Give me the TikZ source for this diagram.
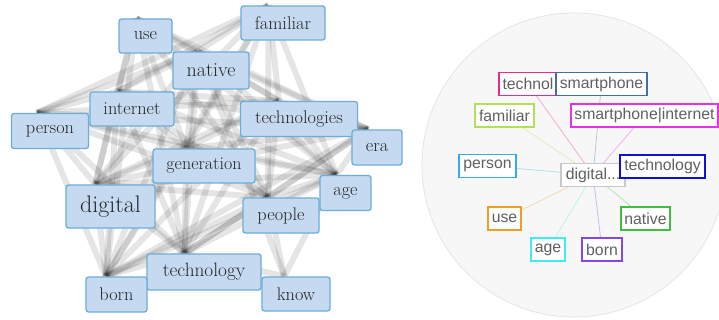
\documentclass[tikz,border=0pt]{standalone}
\usepackage{fontspec}
\newfontfamily\rfont{Liberation Sans}
\usetikzlibrary{backgrounds,calc}
\definecolor{lfill}{RGB}{197,218,240}
\definecolor{lborder}{RGB}{107,174,214}
\definecolor{rtext}{RGB}{96,96,96}
\definecolor{cpink}{RGB}{236,40,140}
\definecolor{csteel}{RGB}{74,110,154}
\definecolor{clime}{RGB}{178,224,90}
\definecolor{cmag}{RGB}{232,48,232}
\definecolor{csky}{RGB}{56,170,236}
\definecolor{cgray}{RGB}{200,200,200}
\definecolor{cblue}{RGB}{16,16,220}
\definecolor{corange}{RGB}{240,160,32}
\definecolor{cgreen}{RGB}{64,190,64}
\definecolor{ccyan}{RGB}{64,236,236}
\definecolor{cpurple}{RGB}{130,70,236}
\tikzset{
  lbox/.style={draw=lborder, fill=lfill, rounded corners=2.5pt, line width=1.3pt, inner sep=0pt, text=black!85, font=\fontsize{18.3}{20}\selectfont},
  rbox/.style={draw=#1, line width=1.6pt, fill=white, inner sep=0pt, text=rtext, font=\rfont\fontsize{15.8}{17}\selectfont, minimum height=23},
  ledge/.style={draw=black, line width=6pt, opacity=0.1},
  redge/.style={draw=#1, line width=0.8pt, opacity=0.35},
}
\begin{document}
\begin{tikzpicture}[x=1pt,y=-1pt]
\clip (0,0) rectangle (719,320);
% left graph nodes
\node[lbox, minimum width=53, minimum height=34] (use) at (145.5,36) {use};
\node[lbox, minimum width=84, minimum height=34] (familiar) at (283,23) {familiar};
\node[lbox, minimum width=76, minimum height=37, font=\fontsize{20}{22}\selectfont] (native) at (211,70.5) {native};
\node[lbox, minimum width=84, minimum height=34] (internet) at (132,109) {internet};
\node[lbox, minimum width=77, minimum height=35] (person) at (50,131) {person};
\node[lbox, minimum width=117, minimum height=35] (technologies) at (299,119) {technologies};
\node[lbox, minimum width=50, minimum height=35] (era) at (377,147.5) {era};
\node[lbox, minimum width=102, minimum height=34, font=\fontsize{18}{20}\selectfont] (generation) at (204,166) {generation};
\node[lbox, minimum width=89, minimum height=43, font=\fontsize{24}{26}\selectfont] (digital) at (110.5,206.5) {digital};
\node[lbox, minimum width=51, minimum height=35] (age) at (345.5,193) {age};
\node[lbox, minimum width=76, minimum height=35] (people) at (281,215.5) {people};
\node[lbox, minimum width=114, minimum height=36, font=\fontsize{19.3}{21}\selectfont] (technology) at (204,272) {technology};
\node[lbox, minimum width=61, minimum height=35] (born) at (116.5,294.5) {born};
\node[lbox, minimum width=68, minimum height=34] (know) at (296,294) {know};
% right radial view nodes
\node[rbox=cgray, minimum width=64] (rdigital) at (593,175) {digital...};
\node[rbox=cpink, minimum width=58] (rtechnol) at (528,84) {technol};
\node[rbox=csteel, minimum width=91] (rsmart) at (601.5,84) {smartphone};
\node[rbox=clime, minimum width=59] (rfamiliar) at (504.5,115.5) {familiar};
\node[rbox=cmag, minimum width=147] (rsmartint) at (644.5,115.5) {smartphone|internet};
\node[rbox=csky, minimum width=57] (rperson) at (487.5,166) {person};
\node[rbox=cblue, minimum width=85] (rtechnology) at (662.5,166.5) {technology};
\node[rbox=corange, minimum width=33] (ruse) at (504.5,218.5) {use};
\node[rbox=cgreen, minimum width=49] (rnative) at (645.5,218.5) {native};
\node[rbox=ccyan, minimum width=34] (rage) at (548,249.5) {age};
\node[rbox=cpurple, minimum width=40] (rborn) at (602,249.5) {born};
\begin{scope}[on background layer]
\fill[white] (0,0) rectangle (719,320);
\foreach \a in {use,familiar,native,internet,person,technologies,era,generation,digital,age,people,technology,born,know} {
  \coordinate (\a-a) at ($(\a.north west)!0.33!(\a.north east)$);
}
\def\names{use,familiar,native,internet,person,technologies,era,generation,digital,age,people,technology,born}
\foreach \a [count=\i] in \names {
  \foreach \b [count=\j] in \names {
    \ifnum\j>\i
      \pgfmathtruncatemacro\skip{(\i==1 && \j==2) || (\i==1 && \j==5) || (\i==2 && \j==7) ? 1 : 0}
      \ifnum\skip=0
        \draw[ledge] (\a-a) -- (\b-a);
      \fi
    \fi
  }
}
\foreach \b in {age,native,people,technology}
  \draw[ledge] (know-a) -- (\b-a);
\fill[white!97!black, draw=white!90!black, line width=0.8pt] (574,165) circle (152);
\draw[redge=cpink] (rdigital.center) -- (rtechnol.center);
\draw[redge=csteel] (rdigital.center) -- (rsmart.center);
\draw[redge=clime] (rdigital.center) -- (rfamiliar.center);
\draw[redge=cmag] (rdigital.center) -- (rsmartint.center);
\draw[redge=csky] (rdigital.center) -- (rperson.center);
\draw[redge=cblue] (rdigital.center) -- (rtechnology.center);
\draw[redge=corange] (rdigital.center) -- (ruse.center);
\draw[redge=cgreen] (rdigital.center) -- (rnative.center);
\draw[redge=ccyan] (rdigital.center) -- (rage.center);
\draw[redge=cpurple] (rdigital.center) -- (rborn.center);
\end{scope}
\end{tikzpicture}
\end{document}
